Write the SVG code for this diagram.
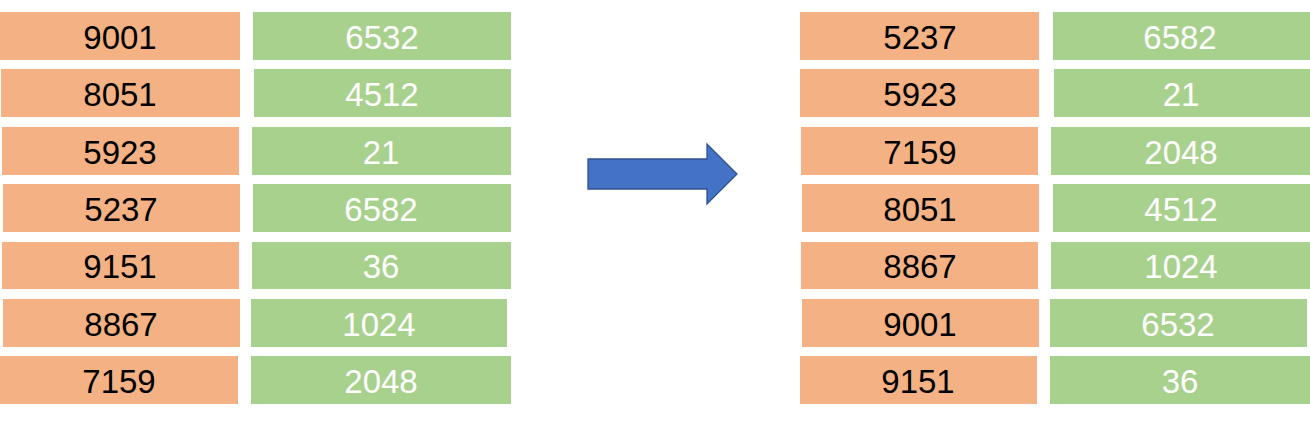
<svg xmlns="http://www.w3.org/2000/svg" width="1310" height="426" viewBox="0 0 1310 426">
<style>
.k{fill:#F4B183}
.v{fill:#A9D18E}
text{font-family:"Liberation Sans",Arial,sans-serif;font-size:33px;text-anchor:middle}
.kt{fill:#000000}
.vt{fill:#FFFFFF}
</style>
<rect width="1310" height="426" fill="#FFFFFF"/>
<g id="before">
<g id="b1"><rect class="k" x="0" y="12" width="240" height="48"/><text class="kt" x="120" y="49">9001</text><rect class="v" x="253" y="12" width="258" height="48"/><text class="vt" x="382" y="49">6532</text></g>
<g id="b2"><rect class="k" x="1" y="69" width="239" height="48"/><text class="kt" x="120" y="106">8051</text><rect class="v" x="254" y="69" width="257" height="48"/><text class="vt" x="382" y="106">4512</text></g>
<g id="b3"><rect class="k" x="2" y="127" width="237" height="48"/><text class="kt" x="120" y="164">5923</text><rect class="v" x="252" y="127" width="259" height="48"/><text class="vt" x="381" y="164">21</text></g>
<g id="b4"><rect class="k" x="3" y="184" width="237" height="48"/><text class="kt" x="121" y="221">5237</text><rect class="v" x="253" y="184" width="258" height="48"/><text class="vt" x="381" y="221">6582</text></g>
<g id="b5"><rect class="k" x="2" y="242" width="237" height="47"/><text class="kt" x="120" y="278">9151</text><rect class="v" x="252" y="242" width="259" height="47"/><text class="vt" x="381" y="278">36</text></g>
<g id="b6"><rect class="k" x="3" y="299" width="237" height="48"/><text class="kt" x="121" y="336">8867</text><rect class="v" x="251" y="299" width="256" height="48"/><text class="vt" x="379" y="336">1024</text></g>
<g id="b7"><rect class="k" x="0" y="356" width="238" height="48"/><text class="kt" x="119" y="393">7159</text><rect class="v" x="251" y="356" width="260" height="48"/><text class="vt" x="381" y="393">2048</text></g>
</g>
<g id="connectors">
<polygon points="588,159 707,159 707,144 737,174 707,204 707,189 588,189" fill="#4472C4" stroke="#2F528F" stroke-width="1.3"/>
</g>
<g id="after">
<g id="a1"><rect class="k" x="800" y="12" width="239" height="48"/><text class="kt" x="920" y="49">5237</text><rect class="v" x="1053" y="12" width="257" height="48"/><text class="vt" x="1180" y="49">6582</text></g>
<g id="a2"><rect class="k" x="800" y="69" width="239" height="48"/><text class="kt" x="920" y="106">5923</text><rect class="v" x="1054" y="69" width="256" height="48"/><text class="vt" x="1181" y="106">21</text></g>
<g id="a3"><rect class="k" x="801" y="127" width="237" height="48"/><text class="kt" x="920" y="164">7159</text><rect class="v" x="1051" y="127" width="259" height="48"/><text class="vt" x="1181" y="164">2048</text></g>
<g id="a4"><rect class="k" x="802" y="184" width="237" height="48"/><text class="kt" x="920" y="221">8051</text><rect class="v" x="1053" y="184" width="257" height="48"/><text class="vt" x="1181" y="221">4512</text></g>
<g id="a5"><rect class="k" x="801" y="242" width="237" height="47"/><text class="kt" x="920" y="278">8867</text><rect class="v" x="1051" y="242" width="259" height="47"/><text class="vt" x="1181" y="278">1024</text></g>
<g id="a6"><rect class="k" x="802" y="299" width="237" height="48"/><text class="kt" x="920" y="336">9001</text><rect class="v" x="1050" y="299" width="257" height="48"/><text class="vt" x="1178" y="336">6532</text></g>
<g id="a7"><rect class="k" x="800" y="356" width="237" height="48"/><text class="kt" x="918" y="393">9151</text><rect class="v" x="1050" y="356" width="260" height="48"/><text class="vt" x="1180" y="393">36</text></g>
</g>
</svg>
